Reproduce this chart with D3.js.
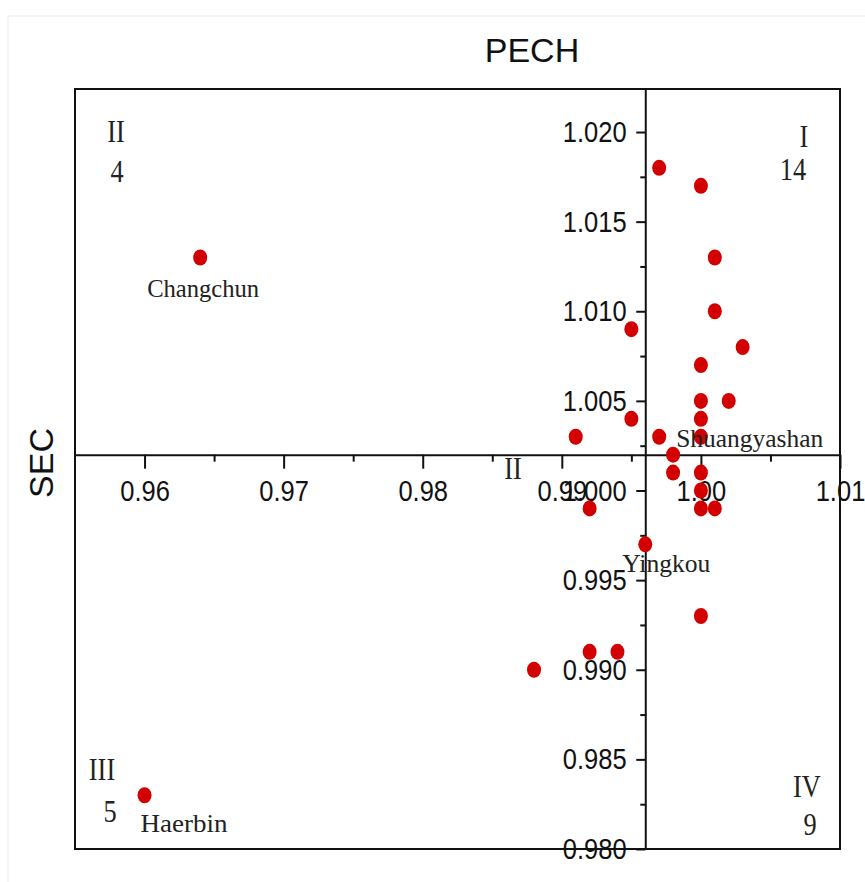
<!DOCTYPE html>
<html>
<head>
<meta charset="utf-8">
<script src="https://cdn.jsdelivr.net/npm/d3@7"></script>
<style>
  body { margin: 0; background: #fff; }
  svg { display: block; }
</style>
</head>
<body>
<div id="chart"></div>
<script>
// PECH (x) and SEC (y) for each city
const pech = [0.964, 0.960, 0.997, 1.000, 1.001, 1.001, 1.003, 1.000, 0.995, 1.000,
              1.002, 1.000, 1.000, 0.995, 0.991, 0.997, 0.998, 0.998, 1.000, 1.000,
              1.000, 1.001, 0.992, 0.996, 1.000, 0.992, 0.994, 0.988];
const sec  = [1.013, 0.983, 1.018, 1.017, 1.013, 1.010, 1.008, 1.007, 1.009, 1.005,
              1.005, 1.004, 1.003, 1.004, 1.003, 1.003, 1.002, 1.001, 1.001, 1.000,
              0.999, 0.999, 0.999, 0.997, 0.993, 0.991, 0.991, 0.990];
// named points (index into the arrays above)
const cityNames = ["Changchun", "Haerbin", "Shuangyashan", "Yingkou"];
const cityIndex = [0, 1, 15, 23];

const xTicks = [0.96, 0.97, 0.98, 0.99, 1.00, 1.01];
const xTickLabels = ["0.96", "0.97", "0.98", "0.99", "1.00", "1.01"];
const yTicks = [0.980, 0.985, 0.990, 0.995, 1.000, 1.005, 1.010, 1.015, 1.020];

const quadrants = ["I", "II", "III", "IV"];
const quadCounts = ["14", "4", "5", "9"];

const crossX = 0.996;   // where the SEC axis crosses
const crossY = 1.002;   // where the PECH axis crosses

const width = 865, height = 882;
const mLeft = 75, mRight = 840, mTop = 89, mBottom = 849;

const svg = d3.select("#chart").append("svg")
  .attr("width", width).attr("height", height);

// faint border of the original image
svg.append("rect")
  .attr("x", 8).attr("y", 16).attr("width", 880).attr("height", 880)
  .attr("fill", "none").attr("stroke", "#ececec");

const x = d3.scaleLinear().domain([0.955, 1.01]).range([mLeft, mRight]);
const y = d3.scaleLinear().domain([0.980, 1.0224]).range([mBottom, mTop]);

const sans = "'Liberation Sans', Arial, sans-serif";
const serif = "'Liberation Serif', 'Times New Roman', serif";

// frame
svg.append("rect")
  .attr("x", mLeft).attr("y", mTop)
  .attr("width", mRight - mLeft).attr("height", mBottom - mTop)
  .attr("fill", "none").attr("stroke", "#111").attr("stroke-width", 2);

// minor ticks
const xMinor = [0.965, 0.975, 0.985, 0.995, 1.005];
const yMinor = [0.9825, 0.9875, 0.9925, 0.9975, 1.0025, 1.0075, 1.0125, 1.0175];

svg.append("g")
  .attr("transform", `translate(0,${y(crossY)})`)
  .call(d3.axisBottom(x).tickValues(xMinor).tickSize(7).tickFormat(""))
  .call(g => g.select(".domain").remove())
  .selectAll("line").attr("stroke", "#111").attr("stroke-width", 2);

svg.append("g")
  .attr("transform", `translate(${x(crossX)},0)`)
  .call(d3.axisLeft(y).tickValues(yMinor).tickSize(5).tickFormat(""))
  .call(g => g.select(".domain").remove())
  .selectAll("line").attr("stroke", "#111").attr("stroke-width", 2);

// x axis (PECH)
const xAxis = svg.append("g")
  .attr("transform", `translate(0,${y(crossY)})`)
  .call(d3.axisBottom(x).tickValues(xTicks).tickSize(14).tickPadding(11)
    .tickFormat((d, i) => xTickLabels[i]).tickSizeOuter(0));
xAxis.select(".domain").attr("stroke", "#111").attr("stroke-width", 2);
xAxis.selectAll(".tick line").attr("stroke", "#111").attr("stroke-width", 2);
xAxis.selectAll(".tick text")
  .attr("font-family", sans).attr("font-size", 30).attr("fill", "#111")
  .attr("transform", "scale(0.85,1)");

// y axis (SEC)
const yAxis = svg.append("g")
  .attr("transform", `translate(${x(crossX)},0)`)
  .call(d3.axisLeft(y).tickValues(yTicks).tickSize(9).tickPadding(13)
    .tickFormat(d3.format(".3f")).tickSizeOuter(0));
yAxis.select(".domain").attr("stroke", "#111").attr("stroke-width", 2);
yAxis.selectAll(".tick line").attr("stroke", "#111").attr("stroke-width", 2);
yAxis.selectAll(".tick text")
  .attr("font-family", sans).attr("font-size", 30).attr("fill", "#111")
  .attr("transform", "scale(0.85,1)");

// axis titles
svg.append("text")
  .attr("x", 532).attr("y", 62)
  .attr("text-anchor", "middle")
  .attr("font-family", sans).attr("font-size", 34).attr("fill", "#111")
  .text("PECH");

svg.append("text")
  .attr("transform", "translate(53,463) rotate(-90)")
  .attr("text-anchor", "middle")
  .attr("font-family", sans).attr("font-size", 34).attr("fill", "#111")
  .text("SEC");

// points
svg.append("g").selectAll("ellipse")
  .data(pech)
  .enter()
  .append("ellipse")
  .attr("cx", (d, i) => x(d))
  .attr("cy", (d, i) => y(sec[i]))
  .attr("rx", 7)
  .attr("ry", 8)
  .attr("fill", "#d20000");

// city labels (offsets from their point)
const labelOffset = [[3, 40, "middle", 112], [-4, 37, "start", 87], [17, 10, "start", 147], [-23, 28, "start", 88]];
svg.append("g").selectAll("text")
  .data(cityNames)
  .enter()
  .append("text")
  .attr("x", (d, i) => x(pech[cityIndex[i]]) + labelOffset[i][0])
  .attr("y", (d, i) => y(sec[cityIndex[i]]) + labelOffset[i][1])
  .attr("text-anchor", (d, i) => labelOffset[i][2])
  .attr("textLength", (d, i) => labelOffset[i][3])
  .attr("lengthAdjust", "spacingAndGlyphs")
  .attr("font-family", serif).attr("font-size", 25).attr("fill", "#222")
  .text(d => d);

// quadrant names and counts
const quadPos = [[804, 147, 793, 180], [116, 142, 117, 182], [102, 780, 110, 822], [807, 797, 810, 835]];
const qg = svg.append("g")
  .attr("font-family", serif).attr("font-size", 31).attr("fill", "#222")
  .attr("text-anchor", "middle");
quadrants.forEach((q, i) => {
  const p = quadPos[i];
  qg.append("text").attr("transform", `translate(${p[0]},${p[1]}) scale(0.85,1)`).text(q);
  qg.append("text").attr("transform", `translate(${p[2]},${p[3]}) scale(0.85,1)`).text(quadCounts[i]);
});
// stray label near the axis crossing
qg.append("text").attr("transform", "translate(513,479) scale(0.85,1)").text("II");
</script>
</body>
</html>
